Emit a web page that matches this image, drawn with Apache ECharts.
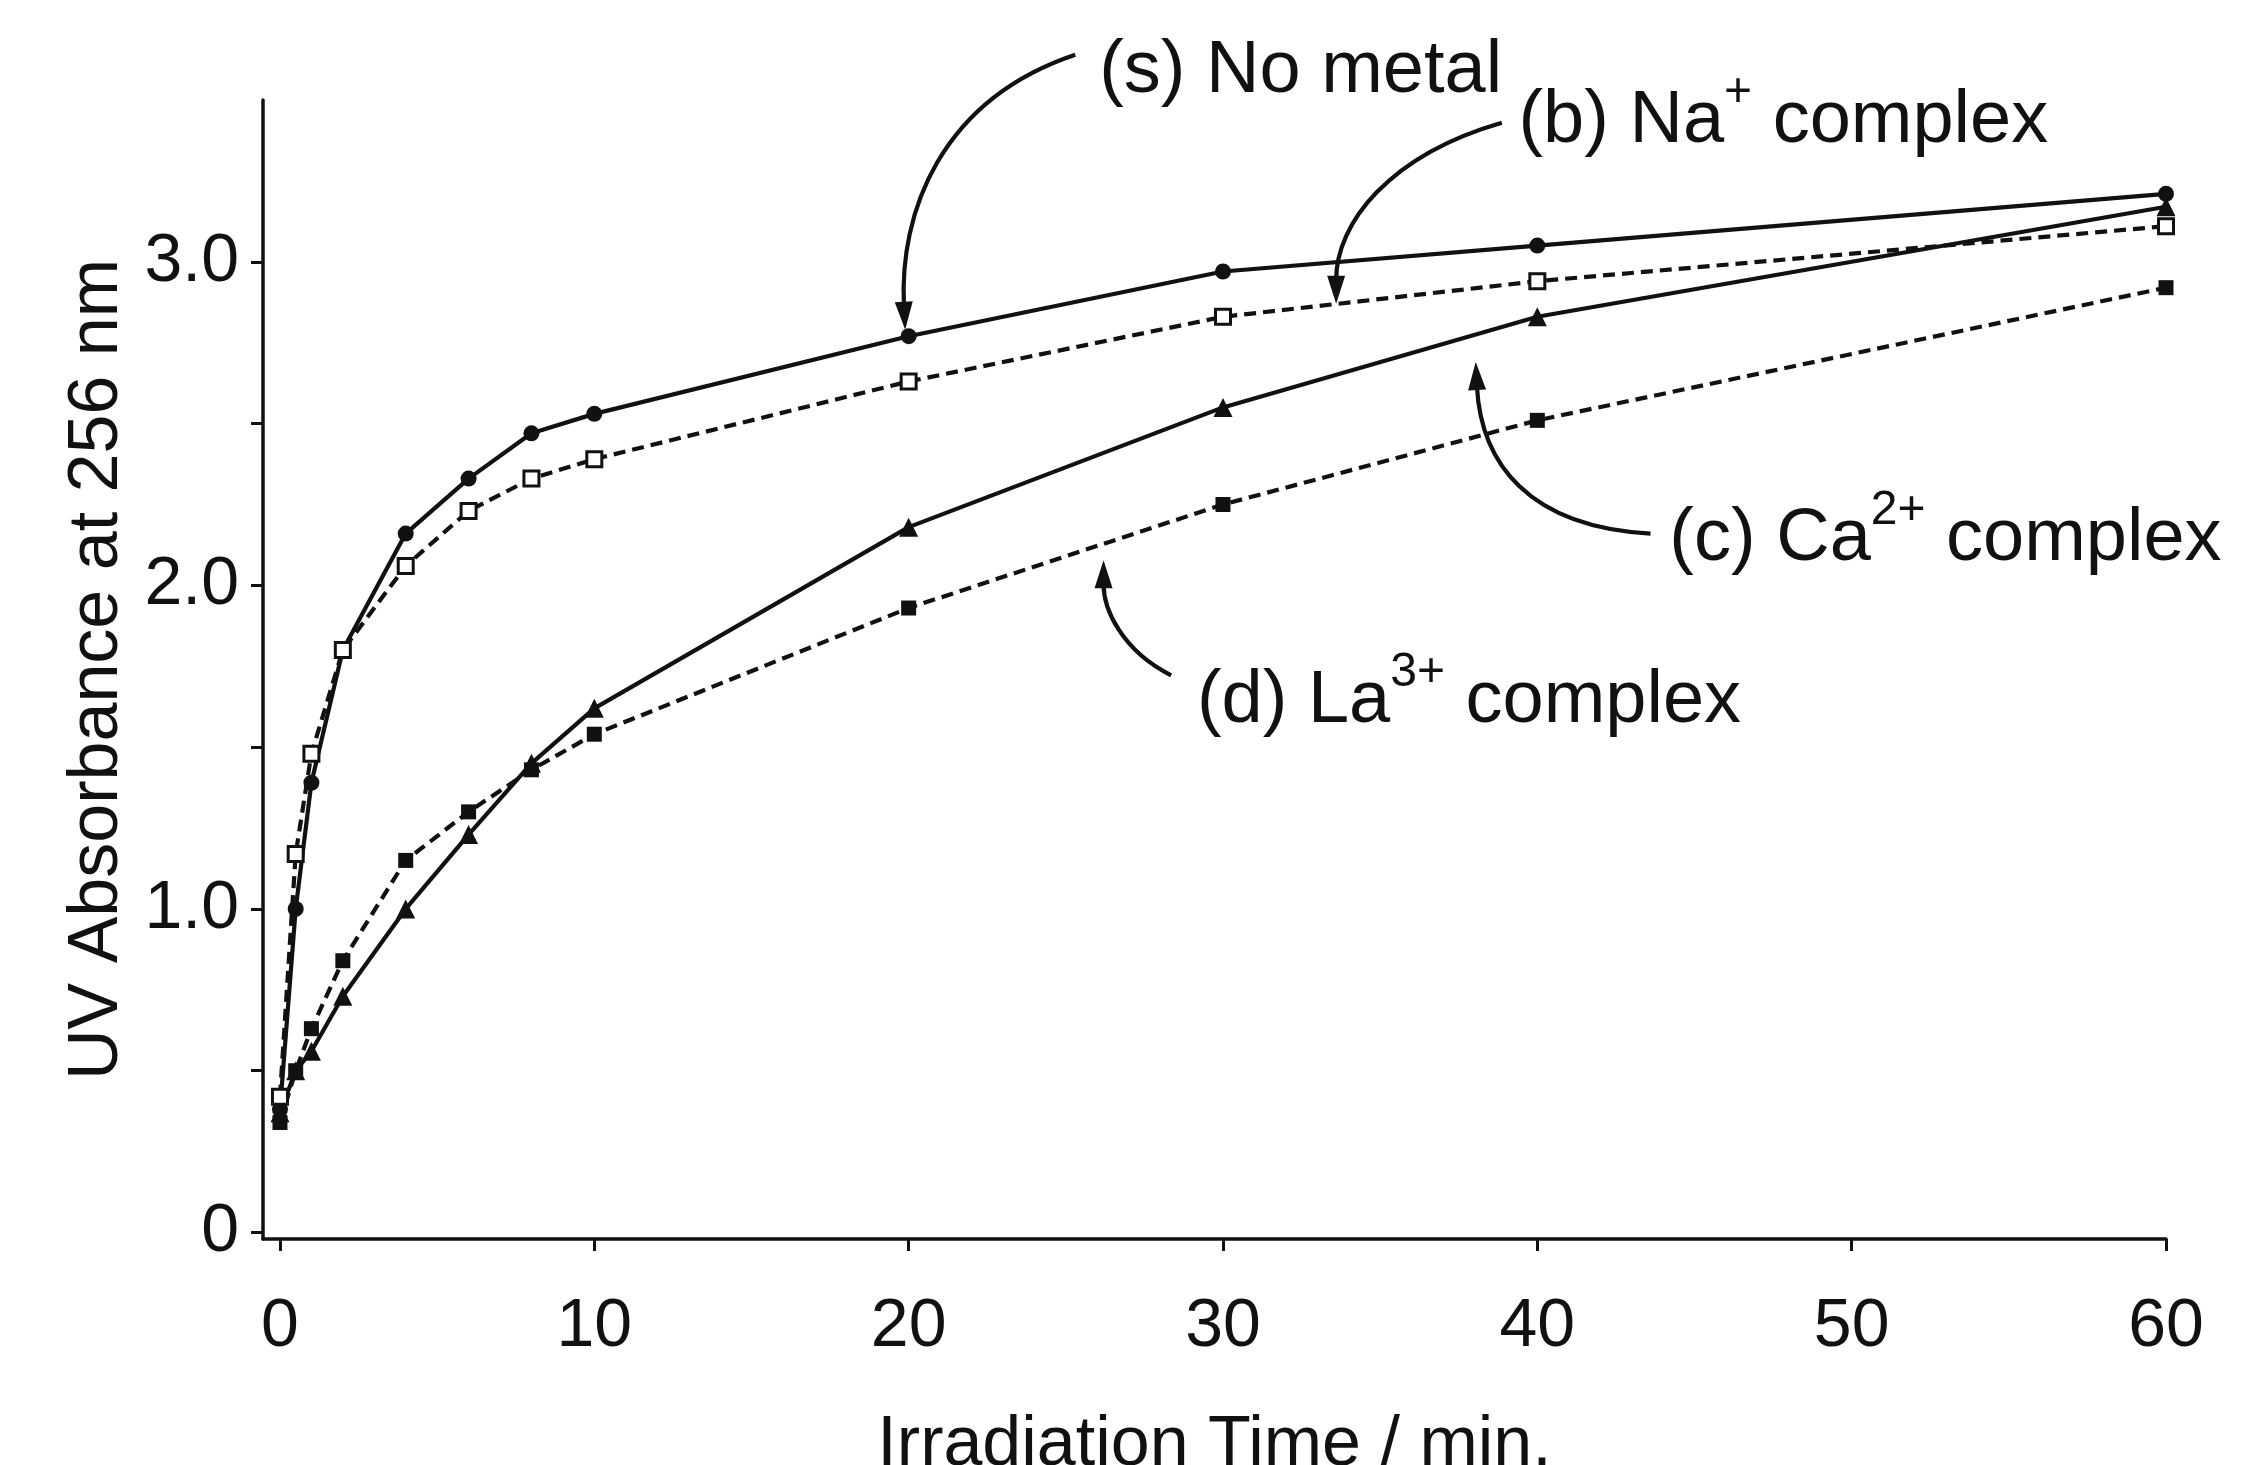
<!DOCTYPE html>
<html>
<head>
<meta charset="utf-8">
<script src="https://cdn.jsdelivr.net/npm/echarts@6/dist/echarts.min.js"></script>
<style>
  html, body { margin: 0; padding: 0; background: #fff; }
  #chart { width: 2254px; height: 1465px; }
</style>
</head>
<body>
<div id="chart"></div>
<script>
// ---- data ----
const times = [0, 0.5, 1, 2, 4, 6, 8, 10, 20, 30, 40, 60];
const noMetal = [0.38, 1.00, 1.39, 1.80, 2.16, 2.33, 2.47, 2.53, 2.77, 2.97, 3.05, 3.21];
const naComplex = [0.42, 1.17, 1.48, 1.80, 2.06, 2.23, 2.33, 2.39, 2.63, 2.83, 2.94, 3.11];
const caComplex = [0.37, 0.50, 0.56, 0.73, 1.00, 1.23, 1.45, 1.62, 2.18, 2.55, 2.83, 3.17];
const laComplex = [0.34, 0.50, 0.63, 0.84, 1.15, 1.30, 1.43, 1.54, 1.93, 2.25, 2.51, 2.92];
const xTicks = [0, 10, 20, 30, 40, 50, 60];
const yTicks = [0, 0.5, 1.0, 1.5, 2.0, 2.5, 3.0];
const yLabels = [0, 1.0, 2.0, 3.0];

const FONT = '"Liberation Sans", Arial, sans-serif';
const pairs = (ys) => times.map((t, i) => [t, ys[i]]);

const chart = echarts.init(document.getElementById('chart'));

const baseSeries = (name, ys, symbol, size, dashed, hollow) => ({
  name: name,
  type: 'line',
  data: pairs(ys),
  symbol: symbol,
  symbolSize: size,
  showSymbol: true,
  animation: false,
  z: 3,
  lineStyle: { color: '#111', width: 4.2, type: dashed ? [12, 7] : 'solid' },
  itemStyle: { color: hollow ? '#fff' : '#111', borderColor: '#111', borderWidth: hollow ? 3 : 0 }
});

chart.setOption({
  backgroundColor: '#fff',
  animation: false,
  grid: { left: 263, right: 88, top: 100, bottom: 226, containLabel: false, outerBoundsMode: 'none' },
  xAxis: {
    type: 'value', min: -0.54, max: 60,
    splitLine: { show: false },
    axisLine: { show: true, onZero: false, lineStyle: { color: '#111', width: 3.5 } },
    axisTick: { show: true, length: 12, inside: false, customValues: xTicks, lineStyle: { color: '#111', width: 3 } },
    axisLabel: { customValues: xTicks, fontFamily: FONT, fontSize: 68, color: '#111', margin: 54 },
    name: 'Irradiation Time / min.',
    nameLocation: 'middle', nameGap: 172,
    nameTextStyle: { fontFamily: FONT, fontSize: 70, color: '#111' }
  },
  yAxis: {
    type: 'value', min: -0.02, max: 3.5,
    splitLine: { show: false },
    axisLine: { show: true, onZero: false, lineStyle: { color: '#111', width: 3.5 } },
    axisTick: { show: true, length: 12, inside: false, customValues: yTicks, lineStyle: { color: '#111', width: 3 } },
    axisLabel: {
      customValues: yLabels, fontFamily: FONT, fontSize: 68, color: '#111', margin: 24,
      formatter: (v) => (v === 0 ? '0' : v.toFixed(1))
    },
    name: 'UV Absorbance at 256 nm',
    nameLocation: 'middle', nameGap: 130, nameRotate: 90,
    nameTextStyle: { fontFamily: FONT, fontSize: 70, color: '#111' }
  },
  series: [
    baseSeries('(s) No metal', noMetal, 'circle', 16, false, false),
    baseSeries('(b) Na+ complex', naComplex, 'rect', 15, true, true),
    baseSeries('(c) Ca2+ complex', caComplex, 'triangle', 19, false, false),
    baseSeries('(d) La3+ complex', laComplex, 'rect', 15, true, false)
  ]
});

// ---- annotations (anchored in data coordinates) ----
const annotations = [
  { main: '(s) No metal', sup: '', rest: '', at: [26.06, 3.614],
    curve: [[25.3, 3.64], [21.0, 3.50], [19.7, 3.15], [19.89, 2.79]] },
  { main: '(b) Na', sup: '+', rest: ' complex', at: [39.4, 3.458],
    curve: [[38.87, 3.43], [35.3, 3.33], [33.6, 3.12], [33.6, 2.87]] },
  { main: '(c) Ca', sup: '2+', rest: ' complex', at: [44.2, 2.167],
    curve: [[43.6, 2.16], [39.7, 2.18], [38.2, 2.38], [38.04, 2.69]] },
  { main: '(d) La', sup: '3+', rest: ' complex', at: [29.17, 1.664],
    curve: [[28.35, 1.722], [26.75, 1.80], [26.2, 1.93], [26.2, 2.078]] }
];

const px = (p) => chart.convertToPixel({ gridIndex: 0 }, p);
const graphics = [];
annotations.forEach((a) => {
  const c = a.curve.map(px);
  const tip = c[3], from = c[2];
  const dx = tip[0] - from[0], dy = tip[1] - from[1];
  const len = Math.sqrt(dx * dx + dy * dy);
  const ux = dx / len, uy = dy / len;
  const headLen = 28, headW = 9;
  const base = [tip[0] - ux * headLen, tip[1] - uy * headLen];
  graphics.push({
    type: 'bezierCurve', silent: true, z: 5,
    shape: { x1: c[0][0], y1: c[0][1], cpx1: c[1][0], cpy1: c[1][1], cpx2: c[2][0], cpy2: c[2][1], x2: base[0] + ux * 4, y2: base[1] + uy * 4 },
    style: { stroke: '#111', lineWidth: 4.2, fill: null }
  });
  graphics.push({
    type: 'polygon', silent: true, z: 5,
    shape: { points: [tip, [base[0] - uy * headW, base[1] + ux * headW], [base[0] + uy * headW, base[1] - ux * headW]] },
    style: { fill: '#111' }
  });
  const p = px(a.at);
  let txt = '{m|' + a.main + '}';
  if (a.sup) txt += '{s|' + a.sup + '}';
  if (a.rest) txt += '{m|' + a.rest + '}';
  graphics.push({
    type: 'text', silent: true, z: 6, x: p[0], y: p[1],
    style: {
      text: txt, fill: '#111', fontFamily: FONT, fontSize: 74,
      verticalAlign: 'middle', align: 'left',
      rich: {
        m: { fontFamily: FONT, fontSize: 74, fill: '#111', lineHeight: 90, verticalAlign: 'bottom' },
        s: { fontFamily: FONT, fontSize: 48, fill: '#111', lineHeight: 90, verticalAlign: 'top' }
      }
    }
  });
});
chart.setOption({ graphic: graphics });
</script>
</body>
</html>
